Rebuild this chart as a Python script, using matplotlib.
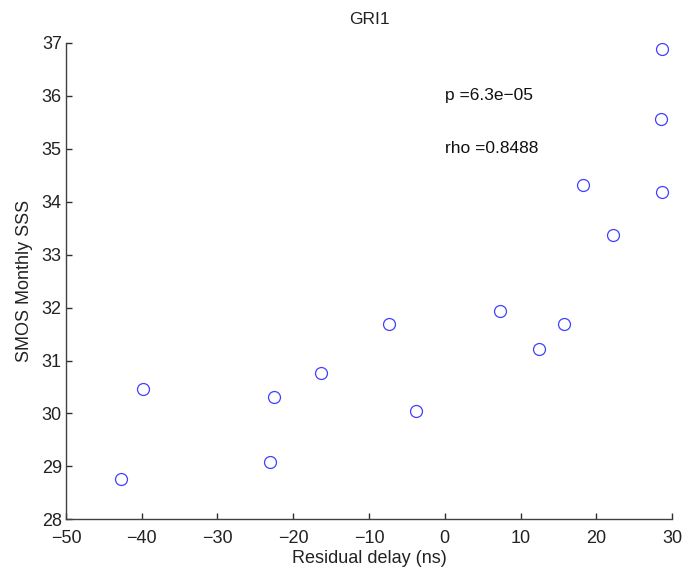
import matplotlib
matplotlib.use("Agg")
import matplotlib.pyplot as plt

# Residual delay (ns) vs SMOS monthly sea surface salinity at GRI1
residual_delay = [-42.8, -39.9, -23.1, -22.5, -16.3, -7.3, -3.8, 7.3, 12.5, 15.8,
                  18.2, 22.2, 28.55, 28.7, 28.7]
smos_sss = [28.76, 30.46, 29.09, 30.31, 30.76, 31.69, 30.05, 31.94, 31.21, 31.69,
            34.32, 33.37, 35.56, 36.89, 34.18]

x_ticks = [-50, -40, -30, -20, -10, 0, 10, 20, 30]
y_ticks = [28, 29, 30, 31, 32, 33, 34, 35, 36, 37]
p_text = "p =6.3e\u221205"
rho_text = "rho =0.8488"

plt.rcParams['font.family'] = ['Liberation Sans', 'DejaVu Sans']
plt.rcParams['axes.unicode_minus'] = True

fig = plt.figure(figsize=(6.86, 5.67), dpi=100)
ax = fig.add_axes([0.0962, 0.0841, 0.8834, 0.8401])

ax.plot(residual_delay, smos_sss, linestyle='none', marker='o', markersize=8.6,
        markerfacecolor='none', markeredgecolor='#4040ff', markeredgewidth=0.9)

ax.set_xlim(-50, 30)
ax.set_ylim(28, 37)
ax.set_xticks(x_ticks)
ax.set_yticks(y_ticks)
ax.set_xticklabels([f"{t:d}".replace('-', '\u2212') for t in x_ticks])

for side in ('top', 'right'):
    ax.spines[side].set_visible(False)
for side in ('left', 'bottom'):
    ax.spines[side].set_color('#404040')
    ax.spines[side].set_linewidth(1.0)

ax.tick_params(direction='in', length=4, width=1, color='#303030',
               labelsize=13, labelcolor='#222222')
ax.tick_params(axis='x', pad=8)
ax.tick_params(axis='y', pad=3)

ax.text(0, 36, p_text, fontsize=12.5, va='center', ha='left', color='#111111')
ax.text(0, 35, rho_text, fontsize=12.5, va='center', ha='left', color='#111111')

ax.set_title("GRI1", fontsize=12.5, color='#222222', pad=14)
ax.set_xlabel("Residual delay (ns)", fontsize=13, color='#222222', labelpad=2)
ax.set_ylabel("SMOS Monthly SSS", fontsize=13, color='#222222', labelpad=6)

fig.savefig("out.png", dpi=100)
